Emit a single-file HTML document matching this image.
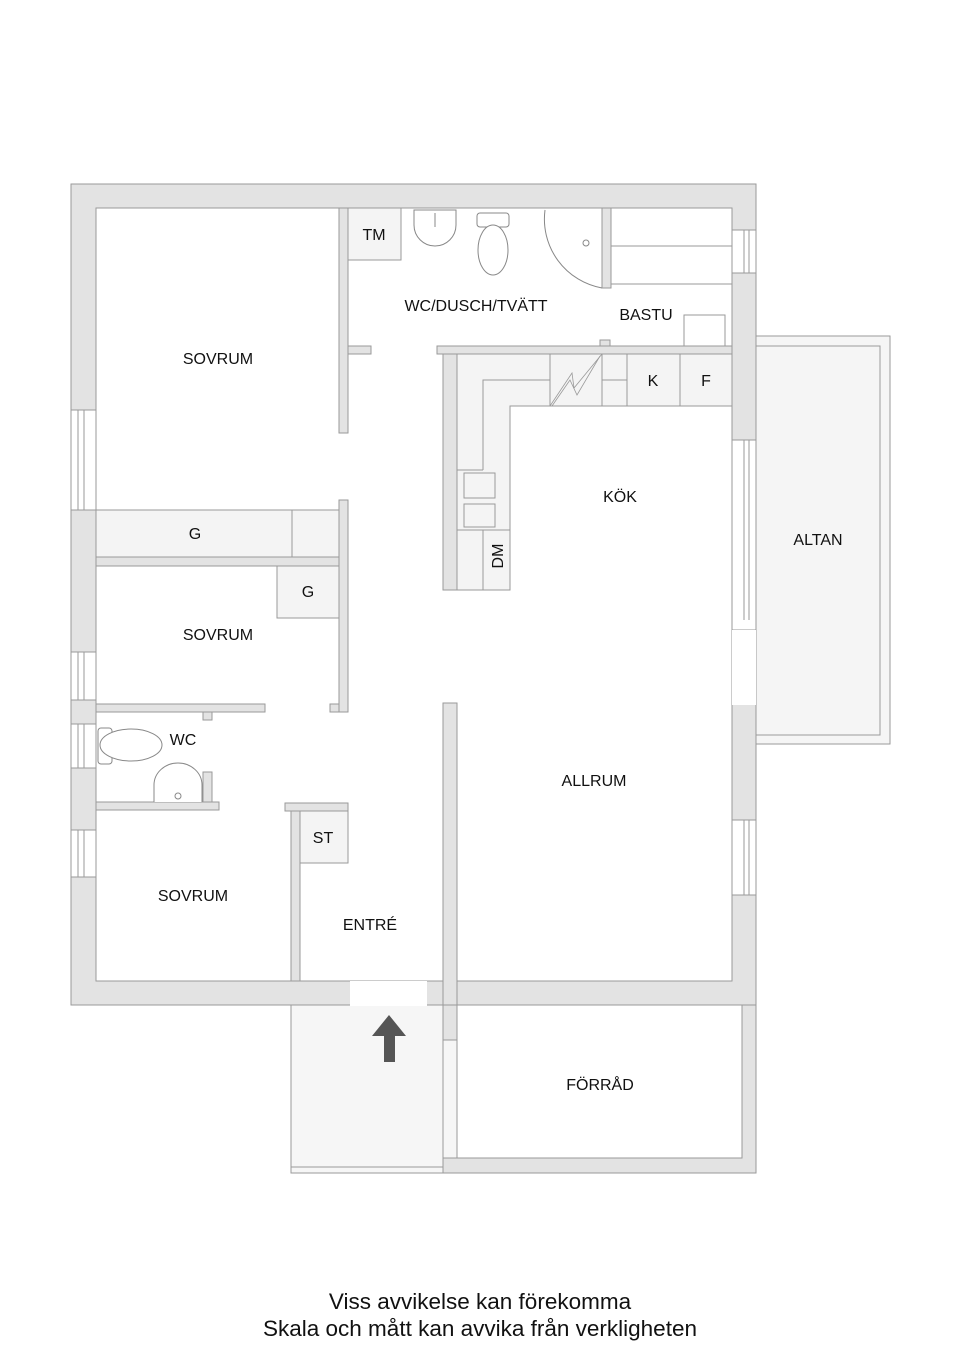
<!DOCTYPE html>
<html><head><meta charset="utf-8"><style>
html,body{margin:0;padding:0;background:#fff;}
svg{display:block;}
text{font-family:"Liberation Sans",Arial,sans-serif;fill:#111;}
</style></head><body>
<svg width="960" height="1358" viewBox="0 0 960 1358" xmlns="http://www.w3.org/2000/svg">
<g stroke="#9a9a9a" stroke-width="1">
<rect x="71" y="184" width="685" height="821" fill="#e3e3e3"/>
<rect x="96" y="208" width="636" height="773" fill="#fff"/>
<rect x="756" y="336" width="134" height="408" fill="#f5f5f5"/>
<rect x="756" y="346" width="124" height="389" fill="#f5f5f5"/>
<rect x="291" y="1005" width="152" height="168" fill="#f6f6f6"/>
<line x1="291" y1="1167" x2="443" y2="1167"/>
<rect x="443" y="1005" width="313" height="168" fill="#e3e3e3"/>
<rect x="457" y="1005" width="285" height="153" fill="#fff"/>
<rect x="443" y="1040" width="14" height="118" fill="#f6f6f6"/>
<rect x="350" y="981" width="77" height="25" fill="#fff" stroke="none"/>
</g>
<g fill="#e3e3e3" stroke="#9a9a9a" stroke-width="1">
<rect x="71" y="410" width="25" height="100" fill="#fff"/>
<rect x="71" y="652" width="25" height="48" fill="#fff"/>
<rect x="71" y="724" width="25" height="44" fill="#fff"/>
<rect x="71" y="830" width="25" height="47" fill="#fff"/>
<rect x="732" y="230" width="24" height="43" fill="#fff"/>
<rect x="732" y="440" width="24" height="190" fill="#fff"/>
<rect x="732" y="630" width="24" height="75" fill="#fff" stroke="none"/>
<rect x="732" y="820" width="24" height="75" fill="#fff"/>
<rect x="339" y="208" width="9" height="225"/>
<rect x="348" y="346" width="23" height="8"/>
<rect x="339" y="500" width="9" height="212"/>
<rect x="330" y="704" width="9" height="8"/>
<rect x="96" y="557" width="243" height="9"/>
<rect x="96" y="704" width="169" height="8"/>
<rect x="203" y="712" width="9" height="8"/>
<rect x="96" y="802" width="123" height="8"/>
<rect x="203" y="772" width="9" height="30"/>
<rect x="285" y="803" width="63" height="8"/>
<rect x="291" y="811" width="9" height="170"/>
<rect x="443" y="703" width="14" height="302"/>
<rect x="437" y="346" width="295" height="8"/>
<rect x="443" y="354" width="14" height="236"/>
<rect x="600" y="340" width="10" height="6"/>
<rect x="602" y="208" width="9" height="80"/>
</g>
<g stroke="#9a9a9a" stroke-width="1">
<line x1="78" y1="410" x2="78" y2="510"/><line x1="84" y1="410" x2="84" y2="510"/>
<line x1="78" y1="652" x2="78" y2="700"/><line x1="84" y1="652" x2="84" y2="700"/>
<line x1="78" y1="724" x2="78" y2="768"/><line x1="84" y1="724" x2="84" y2="768"/>
<line x1="78" y1="830" x2="78" y2="877"/><line x1="84" y1="830" x2="84" y2="877"/>
<line x1="744" y1="230" x2="744" y2="273"/><line x1="749" y1="230" x2="749" y2="273"/>
<line x1="744" y1="440" x2="744" y2="620"/><line x1="749" y1="440" x2="749" y2="620"/>
<line x1="744" y1="820" x2="744" y2="895"/><line x1="749" y1="820" x2="749" y2="895"/>
</g>
<g fill="#f4f4f4" stroke="#9a9a9a" stroke-width="1">
<rect x="96" y="510" width="243" height="47"/>
<line x1="292" y1="510" x2="292" y2="557"/>
<rect x="277" y="566" width="62" height="52"/>
<rect x="348" y="208" width="53" height="52"/>
<rect x="300" y="811" width="48" height="52"/>
<rect x="611" y="208" width="121" height="38" fill="#fff"/>
<rect x="611" y="246" width="121" height="38" fill="#fff"/>
<rect x="684" y="315" width="41" height="31" fill="#fff"/>
<path d="M457 354 H732 V406 H510 V590 H457 Z"/>
<path d="M483 470 V380 H550" fill="none"/>
<line x1="457" y1="470" x2="483" y2="470"/>
<rect x="464" y="473" width="31" height="25"/>
<rect x="464" y="504" width="31" height="23"/>
<line x1="457" y1="530" x2="510" y2="530"/>
<line x1="483" y1="530" x2="483" y2="590"/>
<line x1="550" y1="354" x2="550" y2="406"/>
<line x1="602" y1="354" x2="602" y2="406"/>
<line x1="627" y1="354" x2="627" y2="406"/>
<line x1="680" y1="354" x2="680" y2="406"/>
<line x1="602" y1="380" x2="627" y2="380"/>
<polyline points="550,406 572,373 574,388 602,354" fill="none" stroke-width="0.8"/>
<polyline points="552,406 570,380 577,395 600,356" fill="none" stroke-width="0.8"/>
</g>
<g fill="#fff" stroke="#888" stroke-width="1">
<path d="M414 210 H456 V225 A21 21 0 0 1 414 225 Z"/>
<line x1="435" y1="213" x2="435" y2="227"/>
<rect x="477" y="213" width="32" height="14" rx="3"/>
<ellipse cx="493" cy="250" rx="15" ry="25"/>
<path d="M545 210 A70 70 0 0 0 602 288" fill="none"/>
<circle cx="586" cy="243" r="3"/>
<rect x="98" y="728" width="14" height="36" rx="3"/>
<ellipse cx="131" cy="745" rx="31" ry="16"/>
<path d="M154 802 V785 A24 22 0 0 1 202 785 V802"/>
<circle cx="178" cy="796" r="3"/>
</g>
<polygon points="389,1015 406,1036 395,1036 395,1062 384,1062 384,1036 372,1036" fill="#555"/>
<g font-size="16" text-anchor="middle">
<text x="218" y="364">SOVRUM</text>
<text x="374" y="240">TM</text>
<text x="476" y="311">WC/DUSCH/TVÄTT</text>
<text x="646" y="320">BASTU</text>
<text x="653" y="386">K</text>
<text x="706" y="386">F</text>
<text x="620" y="502">KÖK</text>
<text x="818" y="545">ALTAN</text>
<text x="195" y="539">G</text>
<text x="308" y="597">G</text>
<text x="218" y="640">SOVRUM</text>
<text x="183" y="745">WC</text>
<text x="323" y="843">ST</text>
<text x="193" y="901">SOVRUM</text>
<text x="370" y="930">ENTRÉ</text>
<text x="594" y="786">ALLRUM</text>
<text x="600" y="1090">FÖRRÅD</text>
<text x="503" y="556" transform="rotate(-90 503 556)">DM</text>
</g>
<g font-size="22.5" text-anchor="middle">
<text x="480" y="1309">Viss avvikelse kan förekomma</text>
<text x="480" y="1336">Skala och mått kan avvika från verkligheten</text>
</g>
</svg>
</body></html>
